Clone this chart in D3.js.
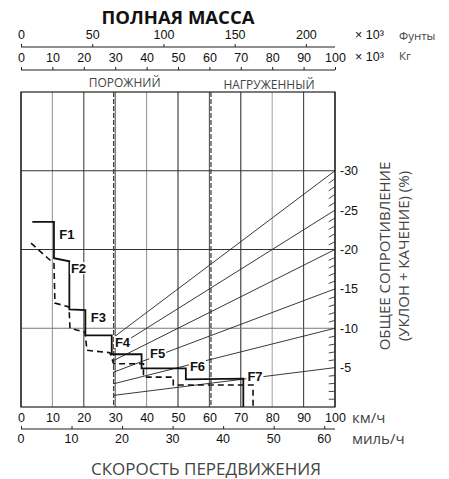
<!DOCTYPE html>
<html>
<head>
<meta charset="utf-8">
<script src="https://cdn.jsdelivr.net/npm/d3@7"></script>
<style>
  body { margin: 0; background: #fff; }
  svg { display: block; }
  .num { font-family: "Liberation Sans", Arial, sans-serif; font-size: 12.5px; fill: #111; }
  .unit { font-family: "Open Sans", sans-serif; fill: #444; }
  .gear { font-family: "Liberation Sans", Arial, sans-serif; font-size: 13px; font-weight: bold; fill: #111; }
</style>
</head>
<body>
<div id="chart"></div>
<script>
const width = 449;
const height = 479;

// chart values
const kmhTicks = [0, 10, 20, 30, 40, 50, 60, 70, 80, 90, 100];
const mphTicks = [0, 10, 20, 30, 40, 50, 60];
const lbTicks = [0, 50, 100, 150, 200];
const kgTicks = [0, 10, 20, 30, 40, 50, 60, 70, 80, 90, 100];
const gridValues = [10, 20, 30];
const resistanceLines = [5, 10, 15, 20, 25, 30];
const resistanceLabels = ["-5", "-10", "-15", "-20", "-25", "-30"];
const minorResistance = [1, 2, 3, 4, 6, 7, 8, 9, 11, 12, 13, 14, 16, 17, 18, 19, 21, 22, 23, 24, 26, 27, 28, 29];
const emptyMass = 29.5;
const loadedMass = 60.5;
const massLabels = ["ПОРОЖНИЙ", "НАГРУЖЕННЫЙ"];

// rimpull curve (solid) and second curve (dashed): [km/h, value]
const solidCurve = [
  [3.6, 23.5], [10.5, 23.5], [10.5, 18.9], [15.4, 18.5], [15.4, 12.4], [20.5, 12.3],
  [20.5, 9.1], [28.9, 9.1], [28.9, 6.7], [38.4, 6.7], [38.4, 4.9], [52.5, 4.9],
  [52.5, 3.5], [70.8, 3.6], [70.8, 0]
];
const dashedCurve = [
  [3.2, 20.8], [10.5, 18.2], [10.8, 13.2], [15.3, 12.7], [15.6, 10.0], [20.4, 9.5],
  [21.0, 7.2], [28.3, 6.9], [29.5, 5.5], [39.0, 5.5], [39.0, 3.8], [48.5, 3.8],
  [48.5, 2.8], [73.9, 2.8], [73.9, 0]
];
const gearNames = ["F1", "F2", "F3", "F4", "F5", "F6", "F7"];
const gearSpeed = [12.2, 15.9, 22.2, 29.9, 41.1, 53.8, 72.1];
const gearValue = [21.3, 17.0, 10.8, 7.6, 6.2, 4.6, 3.3];

const plotLeft = 21, plotRight = 335, plotTop = 92, plotBottom = 407;

const svg = d3.select("#chart").append("svg")
    .attr("width", width)
    .attr("height", height);

const x = d3.scaleLinear().domain([0, 100]).range([plotLeft, plotRight]);
const y = d3.scaleLinear().domain([0, 40]).range([plotBottom, plotTop]);
const xLb = d3.scaleLinear().domain([0, 100 / 0.45359]).range([plotLeft, plotRight]);
const xMph = d3.scaleLinear().domain([0, 100 / 1.60934]).range([plotLeft, plotRight]);

// title
svg.append("text")
    .attr("x", 178).attr("y", 24)
    .attr("text-anchor", "middle")
    .style("font-family", "'Open Sans', sans-serif")
    .style("font-weight", "bold")
    .style("font-size", "18.5px")
    .attr("fill", "#111")
    .text("ПОЛНАЯ МАССА");

// top axes (pounds, kg)
function topAxis(scale, ticks, yPos) {
    const g = svg.append("g").attr("transform", `translate(0,${yPos})`);
    g.call(d3.axisTop(scale).tickValues(ticks).tickSize(3).tickSizeOuter(0).tickPadding(5));
    g.select(".domain").remove();
    g.selectAll(".tick line").attr("stroke", "#222");
    g.selectAll("text").attr("class", "num").attr("font-size", null).attr("font-family", null);
    svg.append("path").attr("d", `M${plotLeft},${yPos}H${plotRight}`)
        .attr("stroke", "#222").attr("stroke-width", 1.2);
    return g;
}
topAxis(xLb, lbTicks, 47);
topAxis(x, kgTicks, 70);

svg.append("text").attr("class", "num").attr("x", 355).attr("y", 39).text("× 10³");
svg.append("text").attr("class", "num").attr("x", 355).attr("y", 61).text("× 10³");
svg.append("text").attr("class", "unit").attr("x", 399).attr("y", 40).style("font-size", "11.5px").text("Фунты");
svg.append("text").attr("class", "unit").attr("x", 399).attr("y", 60).style("font-size", "11.5px").text("Кг");

// grid
const vColors = ["#222", "#999", "#444", "#555", "#999", "#333", "#555", "#333", "#aaa", "#444", "#222"];
svg.append("g").selectAll("line")
    .data(kmhTicks)
    .enter().append("line")
    .attr("x1", d => x(d)).attr("x2", d => x(d))
    .attr("y1", plotTop).attr("y2", plotBottom)
    .attr("stroke", (d, i) => vColors[i])
    .attr("stroke-width", 1.1);

svg.append("g").selectAll("line")
    .data(gridValues)
    .enter().append("line")
    .attr("x1", plotLeft).attr("x2", plotRight)
    .attr("y1", d => y(d)).attr("y2", d => y(d))
    .attr("stroke", (d, i) => i === 0 ? "#777" : "#333")
    .attr("stroke-width", 1.1);

svg.append("rect")
    .attr("x", plotLeft).attr("y", plotTop)
    .attr("width", plotRight - plotLeft).attr("height", plotBottom - plotTop)
    .attr("fill", "none").attr("stroke", "#222").attr("stroke-width", 1.2);

// empty / loaded mass lines
svg.append("g").selectAll("line")
    .data([emptyMass, loadedMass])
    .enter().append("line")
    .attr("x1", d => x(d)).attr("x2", d => x(d))
    .attr("y1", plotTop).attr("y2", plotBottom)
    .attr("stroke", "#444").attr("stroke-width", 1.3)
    .attr("stroke-dasharray", "5,2");

svg.append("text").attr("class", "unit").attr("x", x(emptyMass) + 11).attr("y", 87)
    .attr("text-anchor", "middle").style("font-size", "12px").text(massLabels[0]);
svg.append("text").attr("class", "unit").attr("x", x(loadedMass) + 58).attr("y", 89)
    .attr("text-anchor", "middle").style("font-size", "12px").text(massLabels[1]);

// resistance lines (through origin, drawn from empty mass)
svg.append("g").selectAll("line")
    .data(resistanceLines)
    .enter().append("line")
    .attr("x1", x(emptyMass)).attr("y1", d => y(d * emptyMass / 100))
    .attr("x2", x(100)).attr("y2", d => y(d))
    .attr("stroke", "#222").attr("stroke-width", 0.9);

svg.append("g").selectAll("line")
    .data(minorResistance)
    .enter().append("line")
    .attr("x1", x(98)).attr("y1", d => y(d * 0.98))
    .attr("x2", x(100)).attr("y2", d => y(d))
    .attr("stroke", "#333").attr("stroke-width", 0.9);

svg.append("g").selectAll("text")
    .data(resistanceLines)
    .enter().append("text")
    .attr("class", "num")
    .attr("x", plotRight + 5).attr("y", d => y(d))
    .attr("dy", "0.35em")
    .text((d, i) => resistanceLabels[i]);

// curves
const line = d3.line().x(d => x(d[0])).y(d => y(d[1]));
svg.append("path").datum(dashedCurve)
    .attr("d", line).attr("fill", "none")
    .attr("stroke", "#111").attr("stroke-width", 1.6)
    .attr("stroke-dasharray", "6,4");
svg.append("path").datum(solidCurve)
    .attr("d", line).attr("fill", "none")
    .attr("stroke", "#111").attr("stroke-width", 1.8);

// gear labels
const gears = svg.append("g").selectAll("g")
    .data(gearNames)
    .enter().append("g")
    .attr("transform", (d, i) => `translate(${x(gearSpeed[i])},${y(gearValue[i])})`);
gears.append("rect")
    .attr("x", -1).attr("y", -11).attr("width", 17).attr("height", 12)
    .attr("fill", "#fff");
gears.append("text").attr("class", "gear").text(d => d);

// bottom axes
const gKm = svg.append("g").attr("transform", `translate(0,${plotBottom})`)
    .call(d3.axisBottom(x).tickValues(kmhTicks).tickSize(0).tickPadding(6));
gKm.select(".domain").remove();
gKm.selectAll("text").attr("class", "num").attr("font-size", null).attr("font-family", null);

const gMph = svg.append("g").attr("transform", "translate(0,429)")
    .call(d3.axisTop(xMph).tickValues(mphTicks).tickSize(3).tickSizeOuter(0));
gMph.select(".domain").remove();
gMph.selectAll(".tick line").attr("stroke", "#222");
gMph.selectAll("text").remove();
svg.append("path").attr("d", `M${plotLeft},429H${plotRight}`)
    .attr("stroke", "#222").attr("stroke-width", 1.2);
svg.append("g").selectAll("text")
    .data(mphTicks)
    .enter().append("text")
    .attr("class", "num")
    .attr("x", d => xMph(d)).attr("y", 443)
    .attr("text-anchor", "middle")
    .text(d => d);

svg.append("text").attr("class", "unit").attr("x", 352).attr("y", 423).style("font-size", "15px").text("км/ч");
svg.append("text").attr("class", "unit").attr("x", 352).attr("y", 444).style("font-size", "15px").text("миль/ч");

svg.append("text").attr("class", "unit")
    .attr("x", 206).attr("y", 475)
    .attr("text-anchor", "middle")
    .style("font-size", "17px")
    .text("СКОРОСТЬ ПЕРЕДВИЖЕНИЯ");

// right axis title
const rt = svg.append("text").attr("class", "unit")
    .attr("transform", "translate(390,256) rotate(-90)")
    .attr("text-anchor", "middle")
    .style("font-size", "15px");
rt.append("tspan").attr("x", 0).attr("y", 0).text("ОБЩЕЕ СОПРОТИВЛЕНИЕ");
rt.append("tspan").attr("x", 0).attr("y", 19).text("(УКЛОН + КАЧЕНИЕ) (%)");
</script>
</body>
</html>
